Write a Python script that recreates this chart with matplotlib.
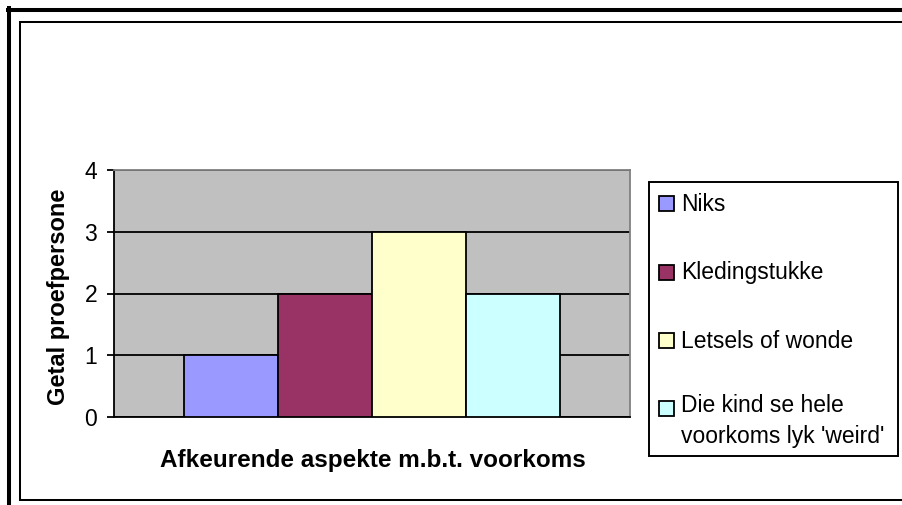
import matplotlib
matplotlib.use("Agg")
import matplotlib.pyplot as plt
from matplotlib.patches import Rectangle
from matplotlib.lines import Line2D

# ---- data ----
categories = ["Niks", "Kledingstukke", "Letsels of wonde",
              "Die kind se hele\nvoorkoms lyk 'weird'"]
values = [1, 2, 3, 2]
colors = ["#9999FF", "#993366", "#FFFFCC", "#CCFFFF"]
yticks = [0, 1, 2, 3, 4]
xlabel = "Afkeurende aspekte m.b.t. voorkoms"
ylabel = "Getal proefpersone"

W, H = 903, 505
plt.rcParams['font.family'] = ['Liberation Sans', 'DejaVu Sans']
fig = plt.figure(figsize=(W / 100, H / 100), dpi=100)

def fx(px):
    return px / W

def fy(py):
    return 1 - py / H

# plot area (pixels)
L, R, T, B = 114, 630, 170, 417
ax = fig.add_axes([fx(L), fy(B), fx(R) - fx(L), fy(T) - fy(B)])
ax.set_facecolor("#C0C0C0")

n = len(values)
w = 1 / (n + 1.5)
for i, (v, c) in enumerate(zip(values, colors)):
    ax.bar((i - (n - 1) / 2) * w, v, width=w, color=c, edgecolor="black",
           linewidth=1.3, zorder=3)

ax.set_xlim(-0.5, 0.5)
ax.set_ylim(0, 4)
ax.set_yticks(yticks)
ax.set_xticks([])
ax.yaxis.grid(True, color="black", linewidth=1.3)
ax.set_axisbelow(True)
ax.tick_params(axis="y", direction="out", length=5, width=1.3, pad=7,
               labelsize=16.5, colors="black")
for s in ["left", "bottom"]:
    ax.spines[s].set_color("black")
    ax.spines[s].set_linewidth(1.3)
for s in ["top", "right"]:
    ax.spines[s].set_color("#808080")
    ax.spines[s].set_linewidth(1.3)

fig.text(fx(59), fy(297), ylabel, rotation=90, ha="center", va="center",
         fontsize=17, fontweight="bold")
fig.text(fx(373), fy(461), xlabel, ha="center", va="center",
         fontsize=17.5, fontweight="bold")

# legend (drawn manually to match layout)
fig.add_artist(Rectangle((fx(649), fy(456)), fx(898) - fx(649), fy(182) - fy(456),
                         transform=fig.transFigure, facecolor="white",
                         edgecolor="black", linewidth=1.4))
line_px = 28
for i, (lab, c) in enumerate(zip(categories, colors)):
    cy = 204 + 68 * i
    fig.add_artist(Rectangle((fx(659), fy(cy + 7.5)), fx(15), 15 / H,
                             transform=fig.transFigure, facecolor=c,
                             edgecolor="black", linewidth=1.3))
    nl = lab.count("\n")
    fig.text(fx(681), fy(cy + 7.5 + line_px * nl), lab, ha="left",
             va="baseline", fontsize=16.5, linespacing=1.47)

# frames
frame = [
    ((8.5, 8.5), (6, H), 2.9),      # outer left
    ((6.5, W), (10, 10), 2.9),      # outer top
    ((20, 20), (21, 500.5), 1.45),  # inner left
    ((19, W), (22, 22), 1.45),      # inner top
    ((19, W), (499.5, 499.5), 1.45) # inner bottom
]
for xs, ys, lw in frame:
    fig.add_artist(Line2D([fx(x) for x in xs], [fy(y) for y in ys],
                          transform=fig.transFigure, color="black",
                          linewidth=lw, solid_capstyle="butt"))

fig.savefig("out.png", dpi=100)
